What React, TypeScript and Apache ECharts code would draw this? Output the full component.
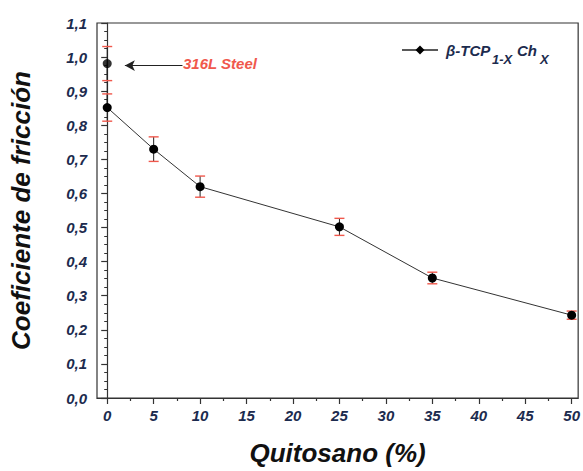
import React, { useEffect, useRef } from "react";
import * as echarts from "echarts";

const chitosan = [0, 5, 10, 25, 35, 50];
const friction = [0.852, 0.73, 0.62, 0.502, 0.352, 0.243];
const frictionErr = [0.04, 0.036, 0.031, 0.025, 0.017, 0.012];
const steelX = 0;
const steelValue = 0.981;
const steelErr = 0.05;
const xMajorTicks = [0, 5, 10, 15, 20, 25, 30, 35, 40, 45, 50];
const xMinorTicks = [2.5, 7.5, 12.5, 17.5, 22.5, 27.5, 32.5, 37.5, 42.5, 47.5];
const arrowFromX = 8.1;
const arrowToX = 1.9;

const NAVY = "#1c2b4e";
const RED = "#f0584c";
const FONT = "'Liberation Sans', Arial, sans-serif";

export default function App() {
  const ref = useRef<HTMLDivElement>(null);
  useEffect(() => {
    const chart = echarts.init(ref.current!, null, { renderer: "svg" });
    const errData = chitosan.map((x, i) => [x, friction[i] - frictionErr[i], friction[i] + frictionErr[i]]);
    errData.push([steelX, steelValue - steelErr, steelValue + steelErr]);
    const xCommon = {
      type: "value",
      min: -1.1,
      max: 50.7,
      splitLine: { show: false },
    };
    chart.setOption({
      animation: false,
      grid: { left: 97, right: 4, top: 23, bottom: 70, show: true, borderColor: "#333", borderWidth: 1.2, backgroundColor: "#fff" },
      xAxis: [
        {
          ...xCommon,
          name: "Quitosano (%)",
          nameLocation: "middle",
          nameGap: 42,
          nameTextStyle: { fontFamily: FONT, fontSize: 26, fontWeight: "bold", fontStyle: "italic", color: "#111" },
          axisLine: { lineStyle: { color: "#333", width: 1.2 } },
          axisTick: { customValues: xMajorTicks, length: 6, lineStyle: { color: "#333", width: 1.2 } },
          axisLabel: {
            customValues: xMajorTicks,
            margin: 10,
            fontFamily: FONT,
            fontSize: 15,
            fontWeight: "bold",
            fontStyle: "italic",
            color: NAVY,
          },
        },
        {
          ...xCommon,
          position: "bottom",
          axisLine: { show: false },
          axisTick: { customValues: xMinorTicks, length: 3, lineStyle: { color: "#333", width: 1.2 } },
          axisLabel: { show: false },
        },
      ],
      yAxis: {
        type: "value",
        min: 0,
        max: 1.1,
        interval: 0.1,
        name: "Coeficiente de fricción",
        nameLocation: "middle",
        nameGap: 63,
        nameTextStyle: { fontFamily: FONT, fontSize: 26, fontWeight: "bold", fontStyle: "italic", color: "#111" },
        splitLine: { show: false },
        axisLine: { show: true, lineStyle: { color: "#333", width: 1.2 } },
        axisTick: { show: true, length: 6, lineStyle: { color: "#333", width: 1.2 } },
        minorTick: { show: true, splitNumber: 4, length: 3, lineStyle: { color: "#333", width: 1 } },
        axisLabel: {
          margin: 10,
          fontFamily: FONT,
          fontSize: 15,
          fontWeight: "bold",
          fontStyle: "italic",
          color: NAVY,
          formatter: (v: number) => v.toFixed(1).replace(".", ","),
        },
      },
      series: [
        {
          type: "line",
          data: [[steelX, steelValue], [chitosan[0], friction[0]]],
          symbol: "none",
          lineStyle: { color: "#222", width: 1 },
          z: 2,
        },
        {
          type: "custom",
          data: errData,
          z: 3,
          renderItem: (params: any, api: any) => {
            const x = api.value(0);
            const lo = api.coord([x, api.value(1)]);
            const hi = api.coord([x, api.value(2)]);
            const hw = 5;
            return {
              type: "group",
              children: [
                { type: "line", shape: { x1: lo[0], y1: lo[1], x2: hi[0], y2: hi[1] }, style: { stroke: "#222", lineWidth: 1 } },
                { type: "line", shape: { x1: lo[0] - hw, y1: lo[1], x2: lo[0] + hw, y2: lo[1] }, style: { stroke: RED, lineWidth: 1.4 } },
                { type: "line", shape: { x1: hi[0] - hw, y1: hi[1], x2: hi[0] + hw, y2: hi[1] }, style: { stroke: RED, lineWidth: 1.4 } },
              ],
            };
          },
        },
        {
          type: "line",
          data: chitosan.map((x, i) => [x, friction[i]]),
          symbol: "circle",
          symbolSize: 9,
          itemStyle: { color: "#000" },
          lineStyle: { color: "#333", width: 1 },
          z: 4,
        },
        {
          type: "scatter",
          data: [[steelX, steelValue]],
          symbol: "circle",
          symbolSize: 9,
          itemStyle: { color: "#000" },
          z: 4,
          markLine: {
            silent: true,
            symbol: ["none", "arrow"],
            symbolSize: [8, 10],
            lineStyle: { color: "#222", width: 1.2, type: "solid" },
            label: { show: false },
            data: [[{ coord: [arrowFromX, 0.975] }, { coord: [arrowToX, 0.975] }]],
          },
        },
      ],
      graphic: [
        {
          type: "text",
          left: 183,
          top: 56,
          style: { text: "316L Steel", fill: RED, font: `italic bold 15px ${FONT}` } as any,
        },
        { type: "line", shape: { x1: 402, y1: 50, x2: 438, y2: 50 }, style: { stroke: "#222", lineWidth: 1.5 } },
        { type: "polygon", shape: { points: [[420, 45.5], [424.5, 50], [420, 54.5], [415.5, 50]] }, style: { fill: "#000" } },
        { type: "text", x: 446, y: 43, style: { text: "β-TCP", fill: NAVY, font: `italic bold 15px ${FONT}` } },
        { type: "text", x: 492, y: 53, style: { text: "1-X", fill: NAVY, font: `italic bold 13px ${FONT}` } },
        { type: "text", x: 517, y: 43, style: { text: "Ch", fill: NAVY, font: `italic bold 15px ${FONT}` } },
        { type: "text", x: 540, y: 53, style: { text: "X", fill: NAVY, font: `italic bold 13px ${FONT}` } },
      ],
    } as any);
    return () => chart.dispose();
  }, []);
  return <div ref={ref} style={{ width: 583, height: 471, position: "absolute", left: 0, top: 0 }} />;
}
